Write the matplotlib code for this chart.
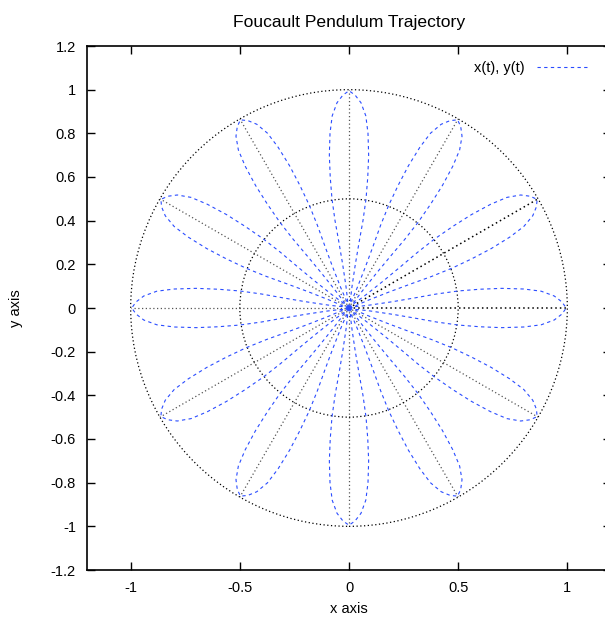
#!/usr/bin/env python3
"""Foucault pendulum trajectory, gnuplot look."""
import matplotlib
matplotlib.use("Agg")
import matplotlib.pyplot as plt
from matplotlib.patches import Circle
from matplotlib.transforms import Affine2D

# one petal: distance from centre and half-width
petal_r = [0.0, 0.05, 0.1, 0.2, 0.3, 0.4, 0.5, 0.6, 0.7, 0.8, 0.88, 0.94, 0.975, 0.995]
petal_hw = [0.004, 0.008, 0.014, 0.029, 0.046, 0.064, 0.078, 0.086, 0.09, 0.087, 0.077, 0.055, 0.028, 0.0]
petal_angles = [0, 30, 60, 90, 120, 150, 180, 210, 240, 270, 300, 330]
circle_radii = [1.0, 0.5]
spoke_angles = petal_angles
spoke_len = 1.0
bold_spokes = [0, 30]

xticks = [-1, -0.5, 0, 0.5, 1]
yticks = [-1.2, -1, -0.8, -0.6, -0.4, -0.2, 0, 0.2, 0.4, 0.6, 0.8, 1, 1.2]

plt.rcParams["font.family"] = ["Liberation Sans", "DejaVu Sans"]
plt.rcParams["font.size"] = 10.5

fig = plt.figure(figsize=(6.05, 6.19), dpi=100)
ax = fig.add_axes([87 / 605, 1 - 570 / 619, (611 - 87) / 605, (570 - 46) / 619])

# petal outline: out along one side, back along the other
px = petal_r + petal_r[::-1]
py = [-h for h in petal_hw] + petal_hw[::-1]

for i, a in enumerate(petal_angles):
    tr = Affine2D().rotate_deg(a) + ax.transData
    ax.plot(px, py, color="#2a4cff", lw=0.8, dashes=(3, 3), transform=tr,
            label="x(t), y(t)" if i == 0 else None, zorder=3)
    # spoke along the petal axis
    lw, col = (1.1, "black") if a in bold_spokes else (0.9, "#555555")
    ax.plot([0, spoke_len], [0, 0], color=col, lw=lw, dashes=(1, 2),
            transform=tr, zorder=2)

for rad in circle_radii:
    ax.add_patch(Circle((0, 0), rad, fill=False, ec="black", lw=0.9,
                        ls=(0, (1, 2)), zorder=2))

ax.set_xlim(-1.2, 1.2)
ax.set_ylim(-1.2, 1.2)
ax.set_xticks(xticks)
ax.set_xticklabels([f"{t:g}" for t in xticks])
ax.set_yticks(yticks)
ax.set_yticklabels([f"{t:g}" for t in yticks])
ax.tick_params(direction="in", length=6, width=1, top=True, right=True, pad=8)
for s in ax.spines.values():
    s.set_linewidth(1.2)

ax.set_title("Foucault Pendulum Trajectory", pad=14)
ax.set_xlabel("x axis", labelpad=5)
ax.set_ylabel("y axis", labelpad=20)

ax.legend(loc="upper right", frameon=False, handlelength=3.5,
          bbox_to_anchor=(0.975, 0.99), markerfirst=False, borderaxespad=0.3)

fig.savefig("out.png", dpi=100)
